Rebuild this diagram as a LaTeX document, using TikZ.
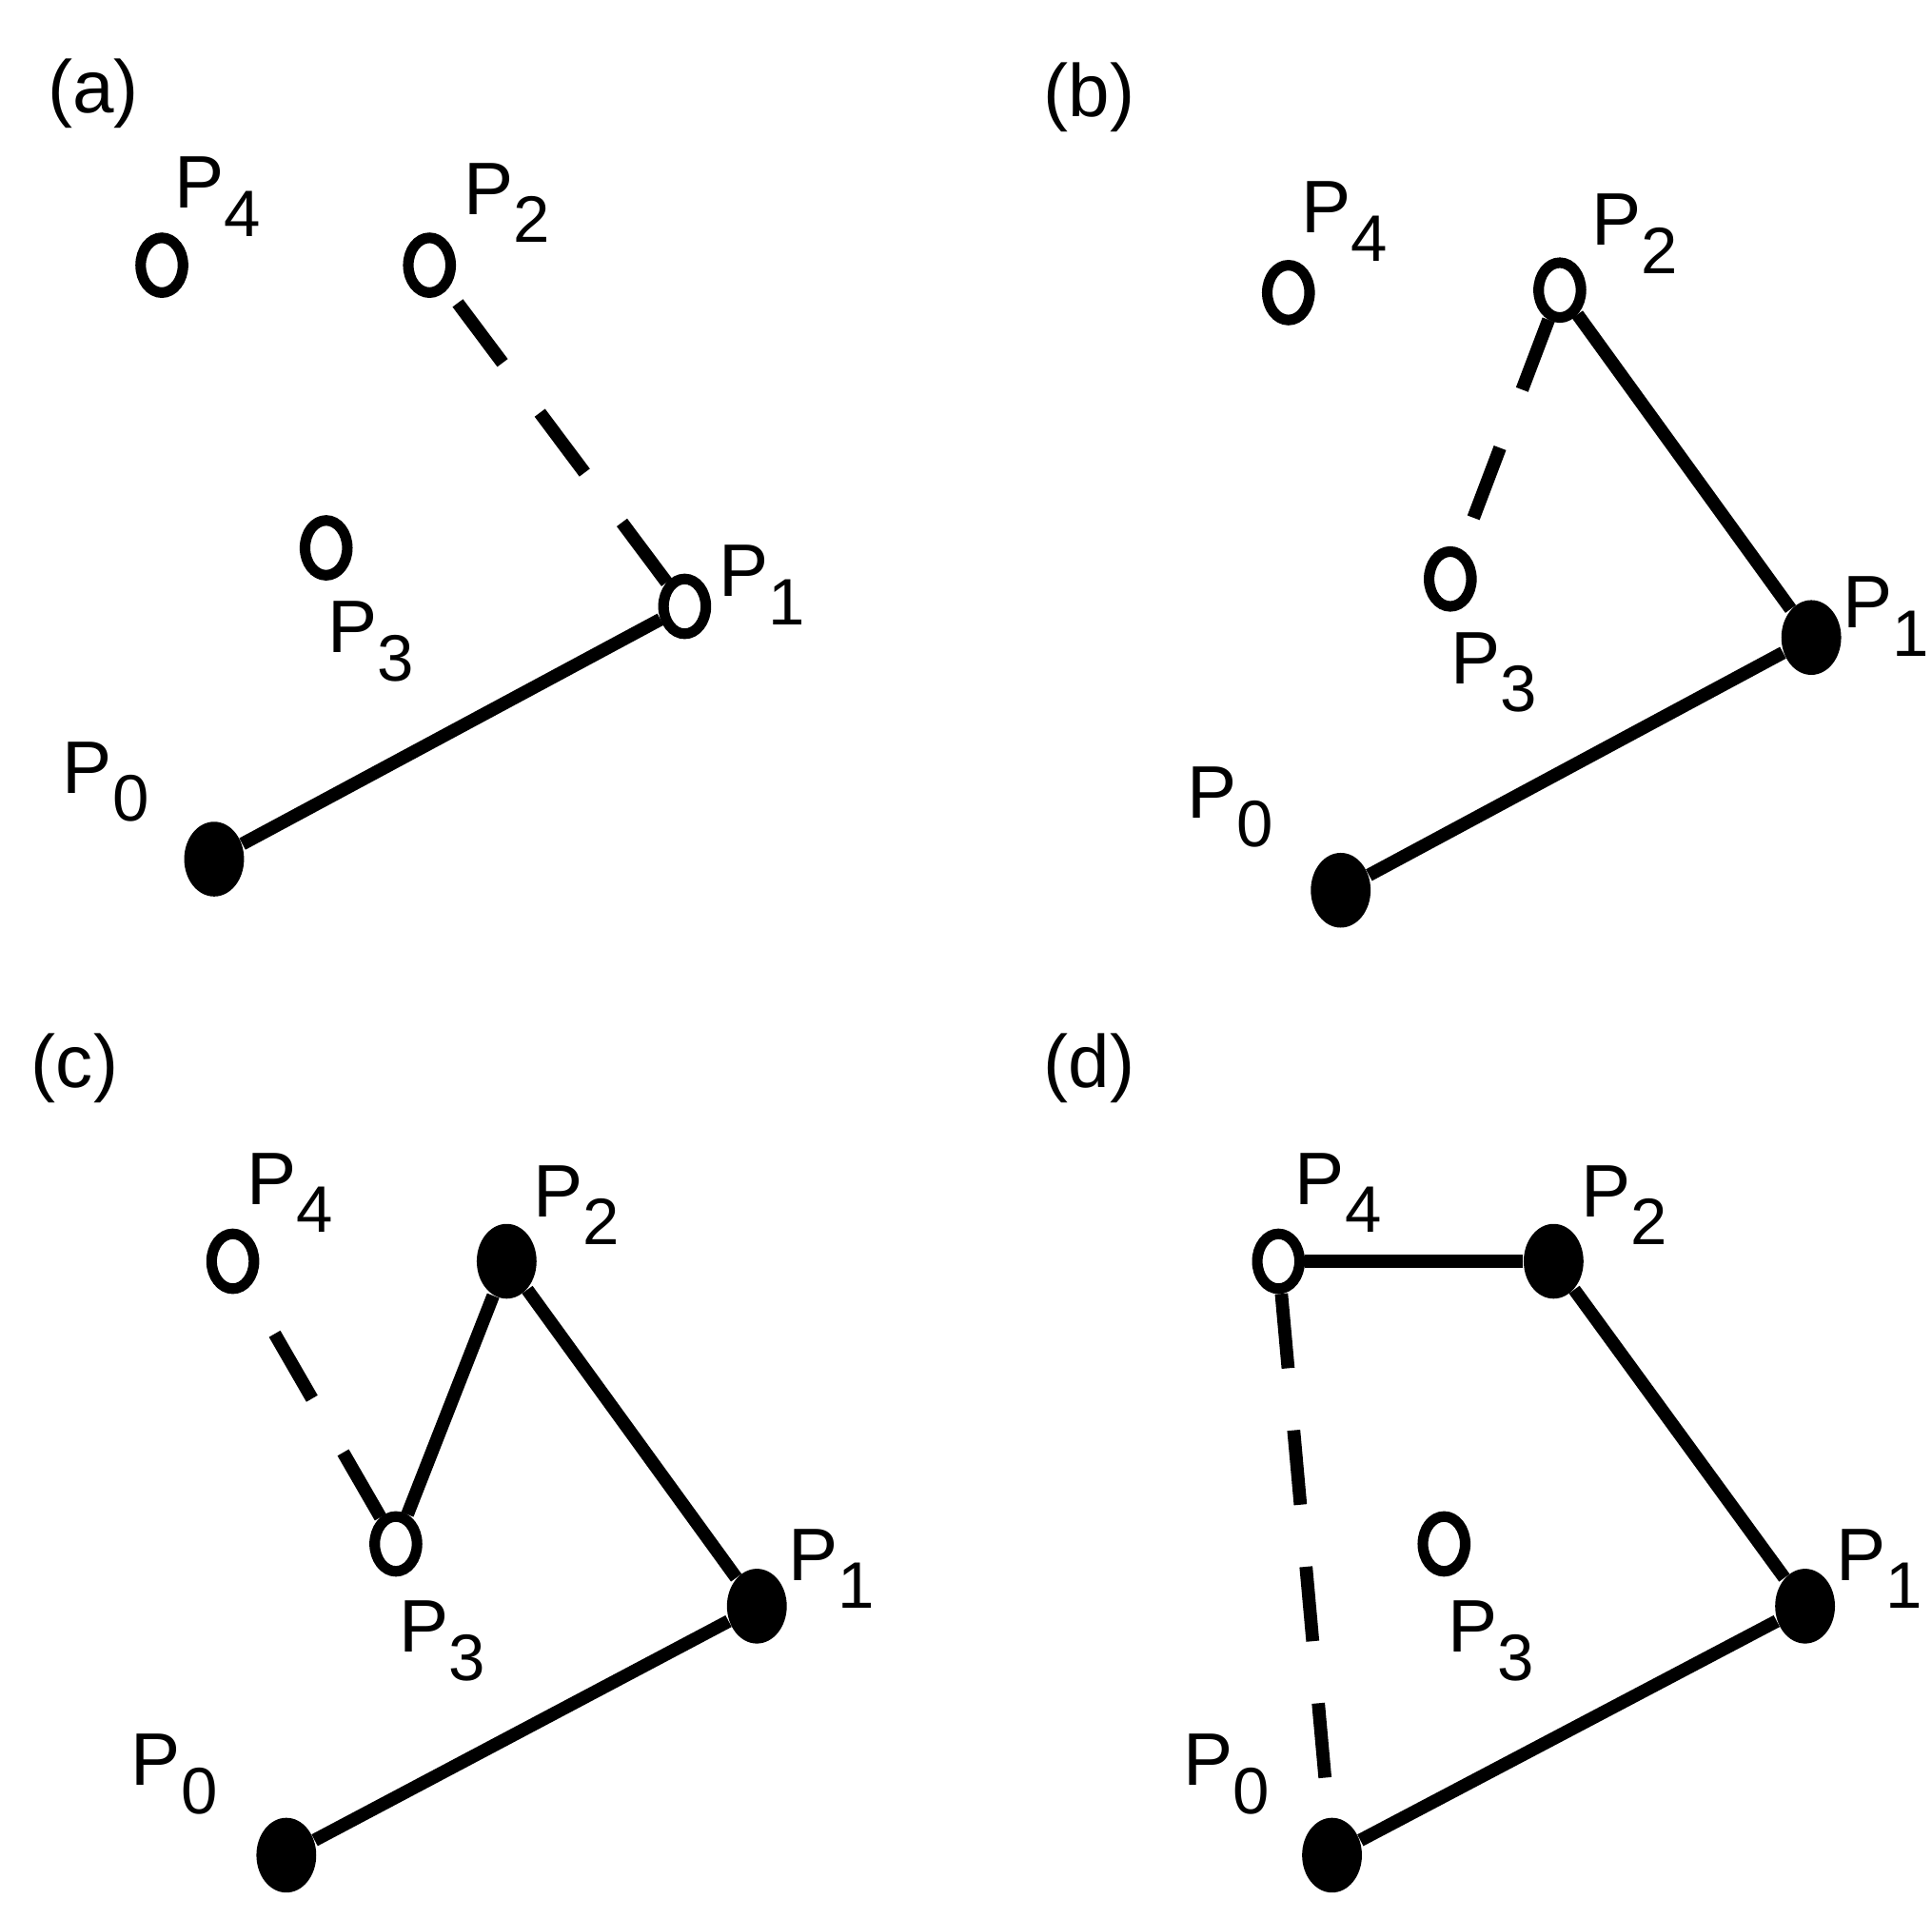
\documentclass[tikz,border=0pt]{standalone}
\usepackage{fontspec}
\setmainfont{Liberation Sans}
\usetikzlibrary{shapes.geometric}
\newcommand{\Pl}[1]{P\raisebox{-0.38em}{\fontsize{15}{18}\selectfont #1}}
\begin{document}
\begin{tikzpicture}[x=0.01cm,y=-0.01cm,
  op/.style={ellipse,draw,line width=0.85mm,fill=white,minimum width=0.34cm,minimum height=0.44cm,inner sep=0pt},
  fp/.style={ellipse,fill=black,minimum width=0.48cm,minimum height=0.6cm,inner sep=0pt},
  lab/.style={font=\fontsize{17}{20}\selectfont,inner sep=0pt},
  seg/.style={line width=1.05mm},
  dseg/.style={line width=1.05mm,dash pattern=on 0.6cm off 0.5cm}]
\useasboundingbox (0,0) rectangle (1552,1541);
% (a)
\node[lab] (la) at (75,75) {(a)};
\node[fp] (a0) at (172,690) {};
\node[op] (a1) at (550,487) {};
\node[op] (a2) at (345,213) {};
\node[op] (a3) at (262,440) {};
\node[op] (a4) at (130,213) {};
\draw[seg] (a0) -- (a1);
\draw[dseg] (a1) -- (a2);
\node[lab] (ta4) at (175,158) {\Pl{4}};
\node[lab] (ta2) at (407,163) {\Pl{2}};
\node[lab] (ta3) at (298,515) {\Pl{3}};
\node[lab] (ta1) at (612,470) {\Pl{1}};
\node[lab] (ta0) at (85,628) {\Pl{0}};
% (b)
\node[lab] (lb) at (875,78) {(b)};
\node[fp] (b0) at (1077,715) {};
\node[fp] (b1) at (1455,512) {};
\node[op] (b2) at (1253,233) {};
\node[op] (b3) at (1165,465) {};
\node[op] (b4) at (1035,235) {};
\draw[seg] (b0) -- (b1);
\draw[seg] (b1) -- (b2);
\draw[dseg] (b2) -- (b3);
\node[lab] (tb4) at (1080,178) {\Pl{4}};
\node[lab] (tb2) at (1313,188) {\Pl{2}};
\node[lab] (tb3) at (1200,540) {\Pl{3}};
\node[lab] (tb1) at (1515,495) {\Pl{1}};
\node[lab] (tb0) at (988,648) {\Pl{0}};
% (c)
\node[lab] (lc) at (60,858) {(c)};
\node[fp] (c0) at (230,1490) {};
\node[fp] (c1) at (608,1290) {};
\node[fp] (c2) at (407,1013) {};
\node[op] (c3) at (318,1240) {};
\node[op] (c4) at (187,1013) {};
\draw[seg] (c0) -- (c1);
\draw[seg] (c1) -- (c2);
\draw[seg] (c2) -- (c3);
\draw[dseg] (c3) -- (c4);
\node[lab] (tc4) at (233,958) {\Pl{4}};
\node[lab] (tc2) at (463,968) {\Pl{2}};
\node[lab] (tc3) at (355,1318) {\Pl{3}};
\node[lab] (tc1) at (668,1260) {\Pl{1}};
\node[lab] (tc0) at (140,1425) {\Pl{0}};
% (d)
\node[lab] (ld) at (875,858) {(d)};
\node[fp] (d0) at (1070,1490) {};
\node[fp] (d1) at (1450,1290) {};
\node[fp] (d2) at (1248,1013) {};
\node[op] (d3) at (1160,1240) {};
\node[op] (d4) at (1027,1013) {};
\draw[seg] (d0) -- (d1);
\draw[seg] (d1) -- (d2);
\draw[seg] (d2) -- (d4);
\draw[dseg] (d4) -- (d0);
\node[lab] (td4) at (1075,958) {\Pl{4}};
\node[lab] (td2) at (1305,968) {\Pl{2}};
\node[lab] (td3) at (1198,1318) {\Pl{3}};
\node[lab] (td1) at (1510,1260) {\Pl{1}};
\node[lab] (td0) at (985,1425) {\Pl{0}};
\end{tikzpicture}
\end{document}
